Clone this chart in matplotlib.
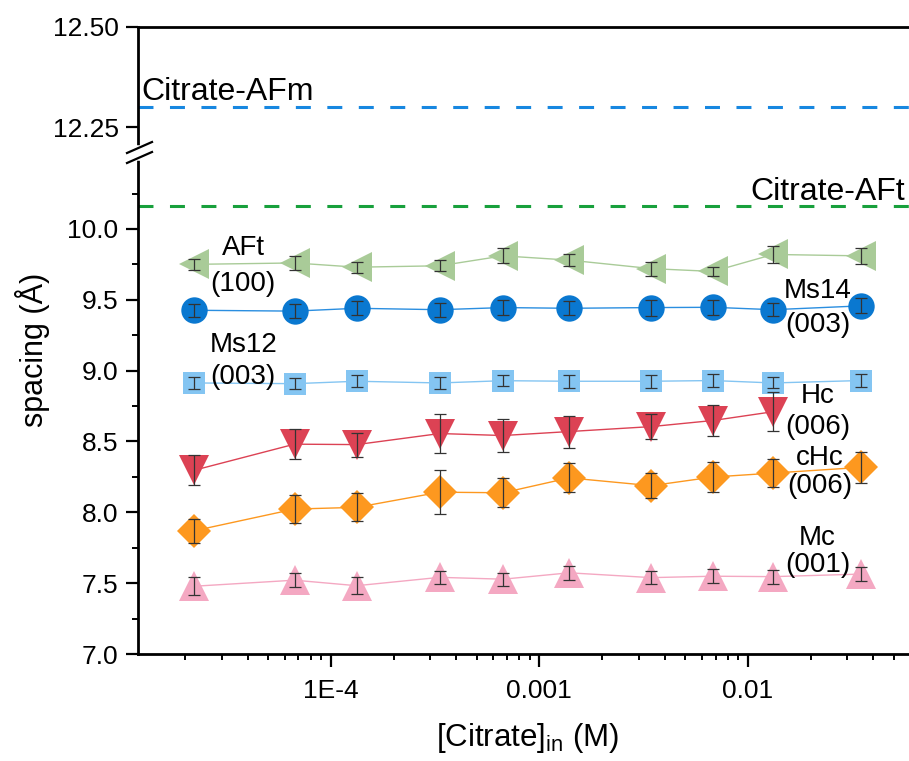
import numpy as np
import matplotlib
matplotlib.use("Agg")
import matplotlib.pyplot as plt
from matplotlib.lines import Line2D
from matplotlib.ticker import FixedLocator, LogLocator, NullFormatter, NullLocator

plt.rcParams['font.family'] = ['Liberation Sans', 'DejaVu Sans']
plt.rcParams['mathtext.fontset'] = 'custom'
plt.rcParams['mathtext.rm'] = 'Liberation Sans'
plt.rcParams['mathtext.it'] = 'Liberation Sans:italic'

# [Citrate]_in (M)
conc = [2.2e-5, 6.7e-5, 1.33e-4, 3.33e-4, 6.7e-4, 1.39e-3, 3.44e-3, 6.8e-3, 1.32e-2, 3.48e-2]

aft = [9.75, 9.76, 9.73, 9.74, 9.81, 9.78, 9.72, 9.70, 9.82, 9.81]
aft_err = [0.041, 0.047, 0.039, 0.039, 0.053, 0.044, 0.050, 0.033, 0.059, 0.059]

ms14 = [9.426, 9.42, 9.44, 9.43, 9.445, 9.44, 9.445, 9.447, 9.43, 9.457]
ms14_err = [0.047, 0.047, 0.05, 0.05, 0.053, 0.05, 0.056, 0.053, 0.047, 0.053]

ms12 = [8.913, 8.908, 8.925, 8.913, 8.929, 8.925, 8.925, 8.93, 8.913, 8.93]
ms12_err = [0.045, 0.041, 0.042, 0.042, 0.041, 0.045, 0.045, 0.044, 0.039, 0.044]

hc = [8.296, 8.481, 8.478, 8.556, 8.542, 8.57, 8.605, 8.648, 8.71]
hc_err = [0.106, 0.107, 0.085, 0.139, 0.118, 0.113, 0.087, 0.106, 0.139]

chc = [7.869, 8.023, 8.035, 8.142, 8.138, 8.243, 8.188, 8.249, 8.277, 8.317]
chc_err = [0.085, 0.098, 0.098, 0.154, 0.102, 0.103, 0.088, 0.109, 0.10, 0.112]

mc = [7.478, 7.521, 7.482, 7.541, 7.528, 7.573, 7.539, 7.549, 7.546, 7.564]
mc_err = [0.064, 0.049, 0.06, 0.048, 0.047, 0.05, 0.044, 0.05, 0.05, 0.048]

citrate_afm = 12.30
citrate_aft = 10.16

fig = plt.figure(figsize=(9.09, 7.61), dpi=100)
W, H = 909, 761
left, right = 138 / W, 1.0
top_y, brk_y, bot_y = 27, 153, 654
ax_top = fig.add_axes([left, 1 - brk_y / H, right - left, (brk_y - top_y) / H])
ax = fig.add_axes([left, 1 - bot_y / H, right - left, (bot_y - brk_y) / H])

xlim = (1.19e-5, 0.0592)
for a in (ax_top, ax):
    a.set_xscale('log')
    a.set_xlim(*xlim)
    a.spines['right'].set_visible(False)
    for s in a.spines.values():
        s.set_linewidth(2.0)
    a.tick_params(which='major', direction='out', length=9, width=1.6, labelsize=19, pad=5)
    a.tick_params(which='minor', direction='out', length=4.5, width=1.4)

ax_top.spines['bottom'].set_visible(False)
ax.spines['top'].set_visible(False)
ax_top.set_ylim(12.185, 12.5)
ax.set_ylim(7.0, 10.536)

ax_top.xaxis.set_major_locator(NullLocator())
ax_top.xaxis.set_minor_locator(NullLocator())
ax_top.yaxis.set_major_locator(FixedLocator([12.25, 12.50]))
ax_top.set_yticklabels(['12.25', '12.50'])

ax.yaxis.set_major_locator(FixedLocator([7.0, 7.5, 8.0, 8.5, 9.0, 9.5, 10.0]))
ax.yaxis.set_minor_locator(FixedLocator([7.25, 7.75, 8.25, 8.75, 9.25, 9.75, 10.25]))
ax.set_yticklabels(['7.0', '7.5', '8.0', '8.5', '9.0', '9.5', '10.0'])
ax.xaxis.set_major_locator(FixedLocator([1e-4, 1e-3, 1e-2]))
ax.set_xticklabels(['1E-4', '0.001', '0.01'])
ax.xaxis.set_minor_locator(LogLocator(base=10, subs=np.arange(2, 10)))
ax.xaxis.set_minor_formatter(NullFormatter())
ax.tick_params(axis='x', which='major', pad=9)

# reference lines
ax_top.axhline(citrate_afm, color='#1787e0', lw=2.2, linestyle=(0, (4.9, 5.4)))
ax.axhline(citrate_aft, color='#18a03c', lw=2.2, linestyle=(0, (4.9, 5.4)))
ax_top.text(1.24e-5, 12.3175, 'Citrate-AFm', fontsize=23, va='baseline', ha='left')
ax.text(0.0566, 10.207, 'Citrate-AFt', fontsize=23, va='baseline', ha='right')

series = [
    (aft, aft_err, '<', '#a9cb98', 21, '#a9cb98'),
    (ms14, ms14_err, 'o', '#0a78d0', 19, '#2a8ee0'),
    (ms12, ms12_err, 's', '#84c5f2', 16.5, '#84c5f2'),
    (hc, hc_err, 'v', '#dc4254', 21.5, '#dc4254'),
    (chc, chc_err, 'D', '#fd981f', 17, '#fd981f'),
    (mc, mc_err, '^', '#f4a8c2', 21, '#f4a8c2'),
]
for vals, errs, mk, col, ms, lcol in series:
    xs = conc[:len(vals)]
    ax.plot(xs, vals, color=lcol, lw=1.0, zorder=2)
    ax.plot(xs, vals, linestyle='none', marker=mk, markersize=ms, color=col,
            markeredgewidth=0, zorder=3)
    ax.errorbar(xs, vals, yerr=errs, fmt='none', ecolor='#333333', elinewidth=0.9,
                capsize=4.5, capthick=0.9, zorder=4)

# series labels (name above, reflection below)
lab_x_left = 3.8e-5
lab_x_right = 0.0216
labels = [
    (lab_x_left, 9.847, 'AFt', '(100)', 9.625),
    (lab_x_left, 9.166, 'Ms12', '(003)', 8.972),
    (lab_x_right, 9.55, 'Ms14', '(003)', 9.338),
    (lab_x_right, 8.803, 'Hc', '(006)', 8.619),
    (0.0221, 8.365, 'cHc', '(006)', 8.203),
    (lab_x_right, 7.807, 'Mc', '(001)', 7.645),
]
for x, y1, t1, t2, y2 in labels:
    ax.text(x, y1 + 0.015, t1, fontsize=20, ha='center', va='center', zorder=5)
    ax.text(x, y2 - 0.015, t2, fontsize=20, ha='center', va='center', zorder=5)

# axis titles
fig.text(32 / W, 1 - 350 / H, 'spacing (Å)', rotation=90, fontsize=22,
         ha='center', va='center')
fig.text(528 / W, 1 - 738 / H, r'[Citrate]$_{\mathrm{in}}$ (M)', fontsize=22.5,
         ha='center', va='center')

# axis break marks
def px(x, y):
    return x / W, 1 - y / H

gx, gy = zip(px(138, 148), px(138, 158))
fig.add_artist(Line2D(gx, gy, color='white', lw=4, transform=fig.transFigure, zorder=10))
for y0, y1 in [(153, 142), (163, 152)]:
    sx, sy = zip(px(127, y0), px(152, y1))
    fig.add_artist(Line2D(sx, sy, color='black', lw=1.6, transform=fig.transFigure, zorder=11))

fig.savefig('out.png', dpi=100)
